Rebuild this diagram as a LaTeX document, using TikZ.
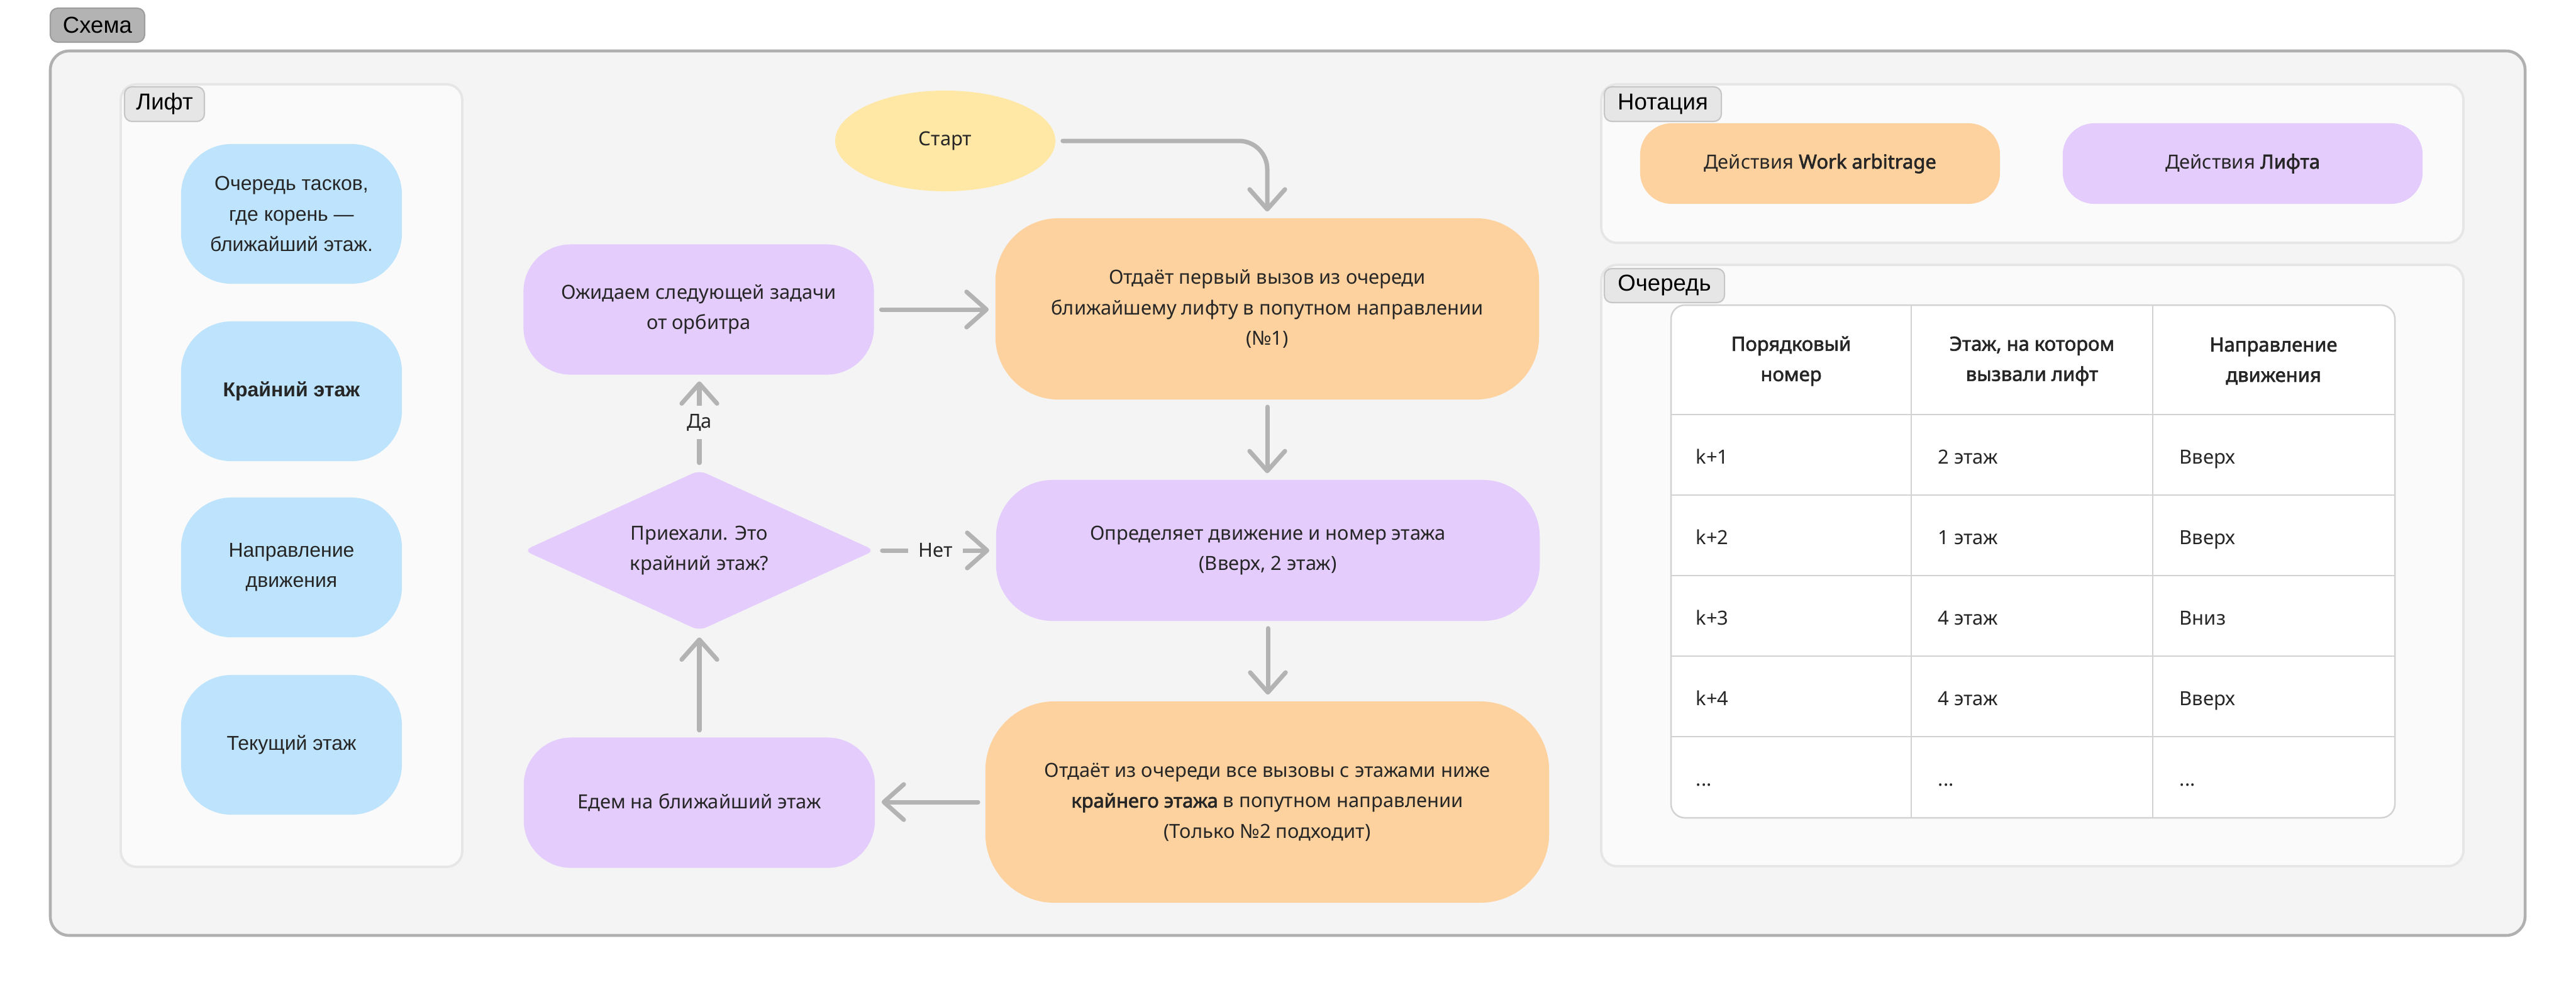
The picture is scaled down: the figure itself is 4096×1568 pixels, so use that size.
\documentclass[tikz,border=0pt]{standalone}
\usepackage{fontspec}
\setmainfont{Noto Sans}[BoldFont={Noto Sans}, BoldFeatures={FakeBold=2.2}]
\newfontfamily\helvfam{Liberation Sans}
\usetikzlibrary{shapes.geometric,arrows.meta}

\definecolor{pagebg}{HTML}{F4F4F4}
\definecolor{outerline}{HTML}{B0B0B0}
\definecolor{panelbg}{HTML}{FAFAFA}
\definecolor{panelline}{HTML}{E6E6E6}
\definecolor{tabdark}{HTML}{B3B3B3}
\definecolor{tabdarkline}{HTML}{9E9E9E}
\definecolor{tablight}{HTML}{E6E6E6}
\definecolor{tablightline}{HTML}{C6C6C6}
\definecolor{skyfill}{HTML}{BEE3FC}
\definecolor{peachfill}{HTML}{FDD29E}
\definecolor{lilacfill}{HTML}{E4CCFD}
\definecolor{sunfill}{HTML}{FFE8A6}
\definecolor{arrowgray}{HTML}{B3B3B3}
\definecolor{ink}{HTML}{262626}
\definecolor{gridline}{HTML}{D2D2D2}

\newcommand\bodytxt{\fontsize{8.8pt}{13.7pt}\selectfont}
\newcommand\helvtxt{\helvfam\fontsize{9.1pt}{13.7pt}\selectfont}
\newcommand\tabtxt{\helvfam\fontsize{10.4pt}{12pt}\selectfont}

\begin{document}
\begin{tikzpicture}[x=0.01cm,y=-0.01cm,
  tab/.style={draw=tablightline, fill=tablight, line width=0.6pt, rounded corners=0.12cm,
    inner sep=0pt, font=\tabtxt, text=black},
  panel/.style={draw=panelline, fill=panelbg, line width=1.1pt, rounded corners=0.25cm},
  flow/.style={inner sep=0pt, align=center, font=\bodytxt, text=ink},
  sky/.style={flow, fill=skyfill, font=\helvtxt, minimum width=3.51cm, minimum height=2.22cm,
    rounded corners=0.8cm},
  lilac/.style={flow, fill=lilacfill},
  peach/.style={flow, fill=peachfill},
  arr/.style={draw=arrowgray, line width=2pt, line cap=round,
    -{Straight Barb[length=9pt,width=16pt,round]},
    shorten <=0.11cm, shorten >=0.1cm},
  lbl/.style={fill=pagebg, inner xsep=0.16cm, inner ysep=0.13cm, font=\bodytxt, text=ink},
  head/.style={font=\bodytxt\bfseries, text=ink, align=center, inner sep=0pt},
  cell/.style={font=\bodytxt, text=ink, anchor=base west, inner sep=0pt}
]
\useasboundingbox (0,0) rectangle (4096,1568);
\fill[white] (0,0) rectangle (4096,1568);

% outer frame
\draw[draw=outerline, fill=pagebg, line width=1.3pt, rounded corners=0.3cm]
  (80,81) rectangle (4015,1487);
\node[tab, draw=tabdarkline, fill=tabdark, minimum width=1.50cm, minimum height=0.54cm]
  (schemaTab) at (155,40) {Схема};

% ---------- left panel: lift state ----------
\draw[panel] (192,134) rectangle (735,1378);
\node[tab, minimum width=1.27cm, minimum height=0.55cm] (liftTab) at (261.5,165.5) {Лифт};
\node[sky] (queueRoot) at (463.5,340) {Очередь тасков,\\где корень —\\ближайший этаж.};
\node[sky] (edgeFloor) at (463.5,622) {\textbf{Крайний этаж}};
\node[sky] (direction) at (463.5,902) {Направление\\движения};
\node[sky] (curFloor) at (463.5,1184) {Текущий этаж};

% ---------- flowchart ----------
\node[flow, ellipse, fill=sunfill, minimum width=3.5cm, minimum height=1.6cm]
  (start) at (1503,224) {Старт};
\node[peach, minimum width=8.64cm, minimum height=2.88cm, rounded corners=1cm]
  (giveFirst) at (2015,491)
  {Отдаёт первый вызов из очереди\\ближайшему лифту в попутном направлении\\(№1)};
\node[lilac, minimum width=5.57cm, minimum height=2.07cm, rounded corners=0.75cm]
  (waitTask) at (1111,492) {Ожидаем следующей задачи\\от орбитра};
\node[lilac, diamond, aspect=2.19, minimum width=5.58cm, minimum height=2.55cm,
  rounded corners=0.12cm]
  (arrived) at (1112,875) {Приехали. Это\\крайний этаж?};
\node[lilac, minimum width=8.64cm, minimum height=2.24cm, rounded corners=0.9cm]
  (decide) at (2016,875) {Определяет движение и номер этажа\\(Вверх, 2 этаж)};
\node[peach, minimum width=8.96cm, minimum height=3.2cm, rounded corners=1.1cm]
  (giveAll) at (2015,1275)
  {Отдаёт из очереди все вызовы с этажами ниже\\\textbf{крайнего этажа} в попутном направлении\\(Только №2 подходит)};
\node[lilac, minimum width=5.58cm, minimum height=2.07cm, rounded corners=0.75cm]
  (goNear) at (1112,1276) {Едем на ближайший этаж};

\draw[arr, rounded corners=0.45cm] (start.east) -| (giveFirst.north);
\draw[arr] (waitTask.east) -- (waitTask.east -| giveFirst.west);
\draw[arr] (giveFirst.south) -- (giveFirst.south |- decide.north);
\draw[arr] (decide.south) -- (decide.south |- giveAll.north);
\draw[arr] (giveAll.west) -- (giveAll.west -| goNear.east);
\draw[arr] (goNear.north) -- (goNear.north |- arrived.south);
\draw[arr] (arrived.east) -- (arrived.east -| decide.west) node[lbl, midway] (noLbl) {Нет};
\draw[arr] (arrived.north) -- (arrived.north |- waitTask.south) node[lbl, midway] (yesLbl) {Да};

% ---------- notation panel ----------
\draw[panel] (2546,134) rectangle (3917,386);
\node[tab, minimum width=1.86cm, minimum height=0.55cm] (notationTab) at (2644,165.5) {Нотация};
\node[peach, minimum width=5.72cm, minimum height=1.28cm, rounded corners=0.5cm]
  (legendArb) at (2894,260) {Действия \textbf{Work arbitrage}};
\node[lilac, minimum width=5.72cm, minimum height=1.28cm, rounded corners=0.5cm]
  (legendLift) at (3566,260) {Действия \textbf{Лифта}};

% ---------- queue panel ----------
\draw[panel] (2546,421) rectangle (3917,1377);
\node[tab, minimum width=1.91cm, minimum height=0.54cm] (queueTab) at (2646.5,454) {Очередь};

\draw[draw=gridline, fill=white, line width=0.7pt, rounded corners=0.22cm]
  (2657,485) rectangle (3808,1300);
\foreach \yy in {659,787,915,1043,1171}
  \draw[draw=gridline, line width=0.7pt] (2657,\yy) -- (3808,\yy);
\foreach \xx in {3039,3423}
  \draw[draw=gridline, line width=0.7pt] (\xx,485) -- (\xx,1300);

\node[head] (h1) at (2848,574) {Порядковый\\номер};
\node[head] (h2) at (3231,574) {Этаж, на котором\\вызвали лифт};
\node[head] (h3) at (3615,574) {Направление\\движения};

\node[cell] (r1a) at (2696,737) {k+1};
\node[cell] (r1b) at (3081,737) {2 этаж};
\node[cell] (r1c) at (3465,737) {Вверх};
\node[cell] (r2a) at (2696,865) {k+2};
\node[cell] (r2b) at (3081,865) {1 этаж};
\node[cell] (r2c) at (3465,865) {Вверх};
\node[cell] (r3a) at (2696,993) {k+3};
\node[cell] (r3b) at (3081,993) {4 этаж};
\node[cell] (r3c) at (3465,993) {Вниз};
\node[cell] (r4a) at (2696,1121) {k+4};
\node[cell] (r4b) at (3081,1121) {4 этаж};
\node[cell] (r4c) at (3465,1121) {Вверх};
\node[cell] (r5a) at (2696,1249) {...};
\node[cell] (r5b) at (3081,1249) {...};
\node[cell] (r5c) at (3465,1249) {...};
\end{tikzpicture}
\end{document}
